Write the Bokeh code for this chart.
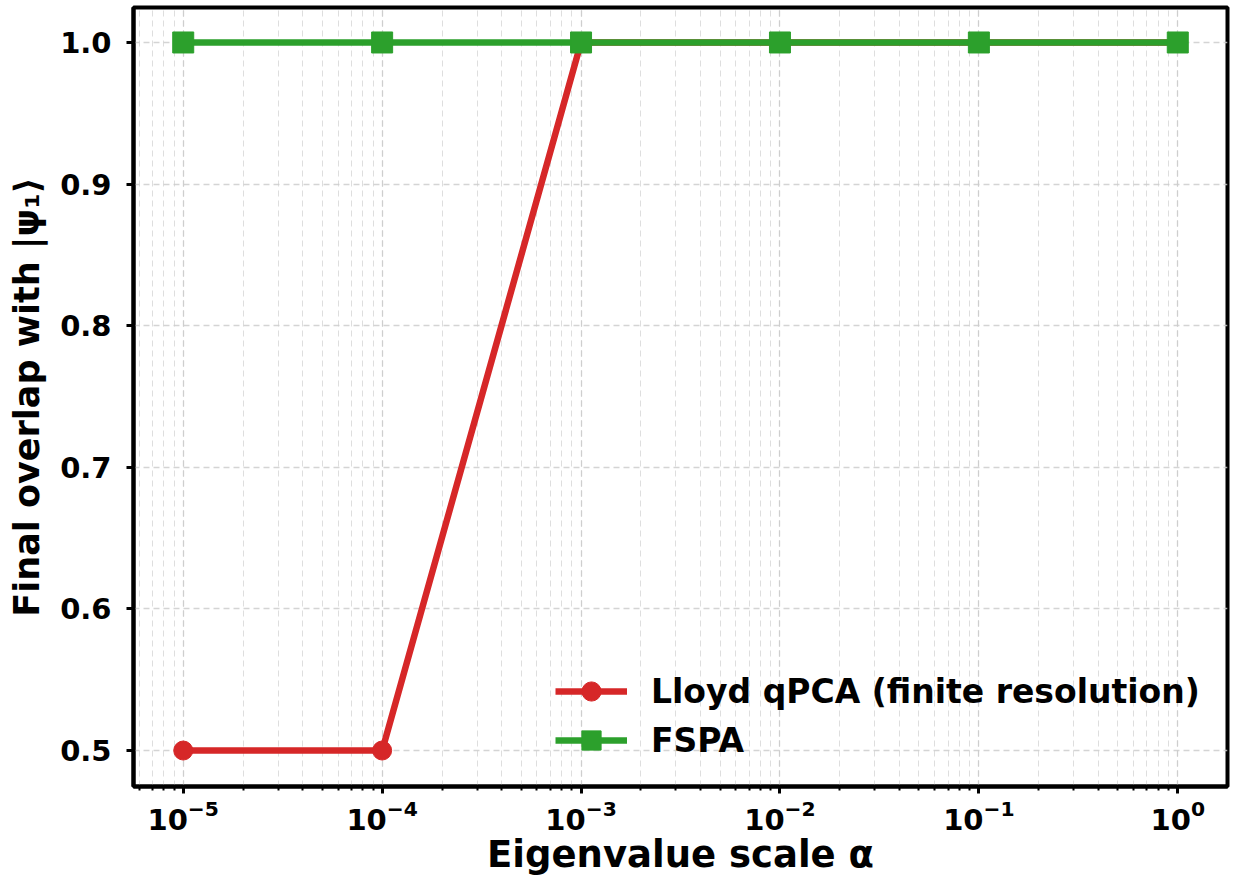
from bokeh.plotting import figure
from bokeh.models import Range1d, Legend, LegendItem, LogTicker, FixedTicker, PrintfTickFormatter
from bokeh.embed import file_html
from bokeh.resources import INLINE

alpha = [1e-5, 1e-4, 1e-3, 1e-2, 1e-1, 1.0]
lloyd = [0.5, 0.5, 1.0, 1.0, 1.0, 1.0]
fspa = [1.0, 1.0, 1.0, 1.0, 1.0, 1.0]
y_ticks = [0.5, 0.6, 0.7, 0.8, 0.9, 1.0]

RED = "#d62728"
GREEN = "#2ca02c"
FONT = "DejaVu Sans"

p = figure(width=1233, height=878, x_axis_type="log",
           x_range=Range1d(10 ** -5.25, 10 ** 0.25),
           y_range=Range1d(0.4746, 1.0247),
           output_backend="svg", toolbar_location=None,
           min_border_left=133, min_border_right=6, min_border_top=7,
           min_border_bottom=92)

p.background_fill_color = "white"
p.outline_line_color = "black"
p.outline_line_width = 4
p.outline_line_alpha = 1.0

# grids
for g in (p.xgrid, p.ygrid):
    g.grid_line_color = "#cccccc"
    g.grid_line_width = 1.3
    g.grid_line_dash = "6 4"
    g.grid_line_alpha = 0.85
p.xgrid.minor_grid_line_color = "#cccccc"
p.xgrid.minor_grid_line_width = 1.0
p.xgrid.minor_grid_line_dash = "6 4"
p.xgrid.minor_grid_line_alpha = 0.65

p.xaxis.ticker = LogTicker(num_minor_ticks=10)
p.yaxis.ticker = FixedTicker(ticks=y_ticks)
p.yaxis.formatter = PrintfTickFormatter(format="%.1f")

for ax in (p.xaxis[0], p.yaxis[0]):
    ax.axis_line_width = 4
    ax.axis_line_color = "black"
    ax.major_tick_line_width = 3
    ax.major_tick_in = 0
    ax.major_tick_out = 7
    ax.minor_tick_line_width = 2
    ax.minor_tick_in = 0
    ax.minor_tick_out = 4
    ax.major_label_text_font = FONT
    ax.major_label_text_font_style = "bold"
    ax.major_label_text_font_size = "29px"
    ax.major_label_text_color = "black"
    ax.axis_label_text_font = FONT
    ax.axis_label_text_font_style = "bold"
    ax.axis_label_text_font_size = "35px"
    ax.axis_label_text_color = "black"

p.xaxis.axis_label_text_font_size = "37px"
p.yaxis.minor_tick_line_color = None
p.yaxis.major_label_standoff = 15
p.xaxis.major_label_standoff = 6
p.yaxis.axis_label_standoff = 10
p.xaxis.axis_label_standoff = 0

p.xaxis.axis_label = "Eigenvalue scale \u03b1"
p.yaxis.axis_label = "Final overlap with |\u03c8\u2081\u27e9"

r_line = p.line(alpha, lloyd, line_color=RED, line_width=6.5)
r_mark = p.scatter(alpha, lloyd, marker="circle", size=19, fill_color=RED, line_color=RED)
g_line = p.line(alpha, fspa, line_color=GREEN, line_width=6.5)
g_mark = p.scatter(alpha, fspa, marker="square", size=21, fill_color=GREEN, line_color=GREEN)

legend = Legend(items=[
    LegendItem(label="Lloyd qPCA (finite resolution)", renderers=[r_line, r_mark]),
    LegendItem(label="FSPA", renderers=[g_line, g_mark]),
], location=(412, 12))
legend.background_fill_alpha = 0
legend.border_line_alpha = 0
legend.label_text_font = FONT
legend.label_text_font_style = "bold"
legend.label_text_font_size = "33px"
legend.label_text_color = "black"
legend.glyph_width = 72
legend.glyph_height = 48
legend.label_height = 48
legend.label_standoff = 24
legend.spacing = 1
legend.padding = 10
legend.margin = 0
p.add_layout(legend)

open("out.html", "w").write(file_html(p, INLINE))
